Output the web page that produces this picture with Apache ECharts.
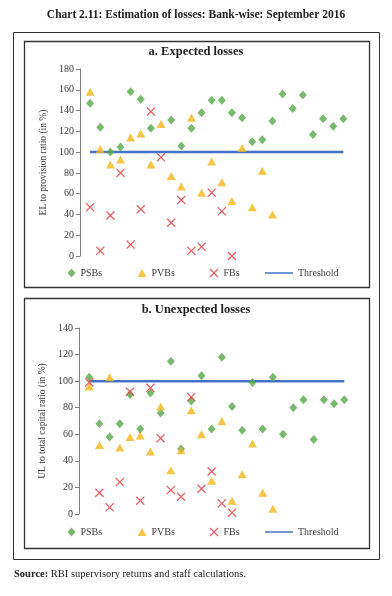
<!DOCTYPE html>
<html><head><meta charset="utf-8">
<script src="https://cdn.jsdelivr.net/npm/echarts@6/dist/echarts.min.js"></script>
<style>html,body{margin:0;padding:0;background:#fff}#c{width:392px;height:596px}</style>
</head><body><div id="c"></div>
<script>
// Bank index (x position within each group)
const bankIndex = [1,2,3,4,5,6,7,8,9,10,11,12,13,14,15,16,17,18,19,20,21,22,23,24,25,26];
// a. Expected losses: EL to provision ratio (%)
const psbEL = [147,124,100,105,158,151,123,null,131,106,123,138,150,150,138,133,110,112,130,156,142,155,117,132,125,132];
const pvbEL = [158,103,88,93,114,118,88,127,77,67,133,61,91,71,53,104,47,82,40];
const fbEL  = [47,5,39,80,11,45,139,95,32,54,5,9,61,43,0];
// b. Unexpected losses: UL to total capital ratio (%)
const psbUL = [103,68,58,68,90,64,91,76,115,49,85,104,64,118,81,63,99,64,103,60,80,86,56,86,83,86];
const pvbUL = [96,52,103,50,58,59,47,81,33,48,78,60,25,70,10,30,53,16,4];
const fbUL  = [99,16,5,24,92,10,95,57,18,13,88,19,32,8,1];
const thresholdEL = 100;
const thresholdUL = 100;
const ticksEL = [0,20,40,60,80,100,120,140,160,180];
const ticksUL = [0,20,40,60,80,100,120,140];

const FONT = "'Liberation Serif', serif";
const GREEN = '#57a84b', GOLD = '#f4b61a', RED = '#e8383d', BLUE = '#4472c4', TXT = '#3a3a3a';
const XPATH = 'path://M0,1 L1,0 L5,4 L9,0 L10,1 L6,5 L10,9 L9,10 L5,6 L1,10 L0,9 L4,5 Z';

function pts(arr){ const out=[]; arr.forEach((v,i)=>{ if(v!==null) out.push([bankIndex[i], v]); }); return out; }
function thr(v, n){ return [[bankIndex[0], v],[bankIndex[n-1], v]]; }

function seriesFor(k, psb, pvb, fb, t){
  return [
    {name:'PSBs', type:'scatter', xAxisIndex:k, yAxisIndex:k, data:pts(psb), symbol:'diamond', symbolSize:[8,9], itemStyle:{color:GREEN}, z:2},
    {name:'PVBs', type:'scatter', xAxisIndex:k, yAxisIndex:k, data:pts(pvb), symbol:'triangle', symbolSize:[9,8], itemStyle:{color:GOLD}, z:3},
    {name:'FBs', type:'scatter', xAxisIndex:k, yAxisIndex:k, data:pts(fb), symbol:XPATH, symbolSize:9, itemStyle:{color:RED}, z:4},
    {name:'Threshold', type:'line', xAxisIndex:k, yAxisIndex:k, data:thr(t, psb.length), symbol:'none', lineStyle:{color:BLUE, width:2.5}, itemStyle:{color:BLUE}, z:1, silent:true}
  ];
}

function yAx(k, ticks, name, gap){
  return {gridIndex:k, type:'value', min:ticks[0], max:ticks[ticks.length-1], interval:ticks[1]-ticks[0],
    name:name, nameLocation:'middle', nameGap:gap, nameTextStyle:{fontFamily:FONT, fontSize:9.5, color:TXT},
    axisLine:{show:true, lineStyle:{color:'#808080', width:1}},
    axisTick:{show:true, length:4, lineStyle:{color:'#808080'}},
    axisLabel:{fontFamily:FONT, fontSize:10, color:TXT, margin:6},
    splitLine:{show:false}};
}
function xAx(k){ return {gridIndex:k, type:'value', min:0, max:27, show:false}; }

function legends(top){
  const base = {top:top, padding:0, selectedMode:false, textStyle:{fontFamily:FONT, fontSize:10, color:TXT}};
  return [
    Object.assign({}, base, {left:67.5, itemWidth:8, itemHeight:9, data:[{name:'PSBs', icon:'diamond'}]}),
    Object.assign({}, base, {left:137.5, itemWidth:9, itemHeight:8, data:[{name:'PVBs', icon:'triangle'}]}),
    Object.assign({}, base, {left:209.5, itemWidth:9, itemHeight:9, data:[{name:'FBs', icon:XPATH}]}),
    Object.assign({}, base, {left:265, itemWidth:28, itemHeight:1.5, data:[{name:'Threshold', icon:'rect'}]})
  ];
}

const chart = echarts.init(document.getElementById('c'), null, {renderer:'canvas'});
chart.setOption({
  animation:false,
  backgroundColor:'#fff',
  grid:[
    {left:80, top:69, width:273.5, height:187},
    {left:79, top:328, width:275.5, height:186}
  ],
  xAxis:[xAx(0), xAx(1)],
  yAxis:[yAx(0, ticksEL, 'EL to provision ratio (in %)', 32), yAx(1, ticksUL, 'UL to total capital ratio (in %)', 31)],
  legend:[].concat(legends(268), legends(527)),
  series:[].concat(seriesFor(0, psbEL, pvbEL, fbEL, thresholdEL), seriesFor(1, psbUL, pvbUL, fbUL, thresholdUL)),
  graphic:[
    {type:'text', left:'center', top:9, style:{text:'Chart 2.11: Estimation of losses: Bank-wise: September 2016', fontFamily:FONT, fontSize:11.5, fontWeight:'bold', fill:'#222'}},
    {type:'rect', shape:{x:13.5, y:32.5, width:366, height:527}, style:{fill:'none', stroke:'#333', lineWidth:1}},
    {type:'rect', shape:{x:24.5, y:41.5, width:345, height:246}, style:{fill:'none', stroke:'#333', lineWidth:1.3}},
    {type:'rect', shape:{x:24.5, y:298.5, width:345, height:250}, style:{fill:'none', stroke:'#333', lineWidth:1.3}},
    {type:'text', left:'center', top:45, style:{text:'a. Expected losses', fontFamily:FONT, fontSize:12.5, fontWeight:'bold', fill:'#222'}},
    {type:'text', left:'center', top:303, style:{text:'b. Unexpected losses', fontFamily:FONT, fontSize:12.5, fontWeight:'bold', fill:'#222'}},
    {type:'text', left:14, top:569, style:{text:'{b|Source:} RBI supervisory returns and staff calculations.', fontFamily:FONT, fontSize:10.5, fill:'#222', rich:{b:{fontFamily:FONT, fontSize:10.5, fontWeight:'bold', fill:'#222'}}}}
  ]
});
</script>
</body></html>
